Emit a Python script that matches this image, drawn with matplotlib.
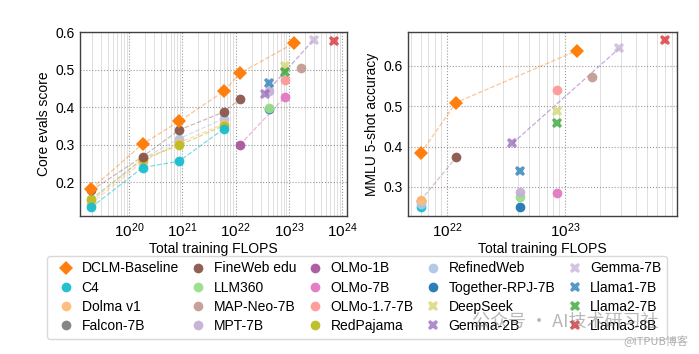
import matplotlib
matplotlib.use("Agg")
import matplotlib.pyplot as plt
from matplotlib.lines import Line2D

plt.rcParams['font.family'] = ['Liberation Sans', 'DejaVu Sans']
plt.rcParams['mathtext.default'] = 'regular'
plt.rcParams['font.size'] = 10

# compute scales shared by the dataset sweeps
sweep_flops = [1.95e19, 1.8e20, 8.7e20, 6.0e21]
dclm_flops = [1.95e19, 1.8e20, 8.7e20, 6.0e21, 1.2e22, 1.27e23]
fineweb_flops = [1.95e19, 1.8e20, 8.7e20, 6.0e21, 1.2e22]

# Core evals score
dclm_core = [0.182, 0.302, 0.362, 0.442, 0.490, 0.571]
c4_core = [0.133, 0.239, 0.256, 0.342]
dolma_core = [0.143, 0.255, 0.305, 0.355]
fineweb_core = [0.178, 0.268, 0.339, 0.387, 0.421]
redpajama_core = [0.155, 0.262, 0.298, 0.351]
refinedweb_core = [0.150, 0.262, 0.316, 0.369]

# MMLU 5-shot accuracy
mmlu_dclm_flops = [6.0e21, 1.2e22, 1.27e23]
dclm_mmlu = [0.383, 0.509, 0.638]
mmlu_sweep_flops = [6.0e21]
c4_mmlu = [0.250]
dolma_mmlu = [0.267]
refinedweb_mmlu = [0.258]
mmlu_fineweb_flops = [6.0e21, 1.2e22]
fineweb_mmlu = [0.266, 0.373]

# single released models
models = ["Together-RPJ-7B", "LLM360", "MPT-7B", "MAP-Neo-7B", "OLMo-1B", "OLMo-7B",
          "OLMo-1.7-7B", "DeepSeek", "Gemma-2B", "Gemma-7B", "Llama1-7B",
          "Llama2-7B", "Llama3-8B"]
model_flops = [4.2e22, 4.2e22, 4.2e22, 1.7e23, 1.2e22, 8.5e22,
               8.5e22, 8.5e22, 3.6e22, 2.9e23, 4.2e22, 8.5e22, 7.1e23]
model_core = [0.394, 0.398, 0.443, 0.503, 0.299, 0.428,
              0.471, 0.510, 0.436, 0.579, 0.463, 0.494, 0.577]
model_mmlu = [0.251, 0.274, 0.287, 0.572, None, 0.284,
              0.540, 0.487, 0.408, 0.644, 0.340, 0.458, 0.663]

legend_order = ["DCLM-Baseline", "C4", "Dolma v1", "Falcon-7B", "FineWeb edu",
                "LLM360", "MAP-Neo-7B", "MPT-7B", "OLMo-1B", "OLMo-7B",
                "OLMo-1.7-7B", "RedPajama", "RefinedWeb", "Together-RPJ-7B",
                "DeepSeek", "Gemma-2B", "Gemma-7B", "Llama1-7B", "Llama2-7B",
                "Llama3-8B"]

colors = {
    "DCLM-Baseline": "#ff7f0e", "C4": "#17becf", "Dolma v1": "#ffbb78",
    "Falcon-7B": "#7f7f7f", "FineWeb edu": "#8c564b", "LLM360": "#98df8a",
    "MAP-Neo-7B": "#c49c94", "MPT-7B": "#c5b0d5", "OLMo-1B": "#a8569c",
    "OLMo-7B": "#e377c2", "OLMo-1.7-7B": "#ff9896", "RedPajama": "#bcbd22",
    "RefinedWeb": "#aec7e8", "Together-RPJ-7B": "#1f77b4", "DeepSeek": "#d4d46a",
    "Gemma-2B": "#9467bd", "Gemma-7B": "#c5b0d5", "Llama1-7B": "#1f77b4",
    "Llama2-7B": "#2ca02c", "Llama3-8B": "#d62728",
}
x_models = {"DeepSeek", "Gemma-2B", "Gemma-7B", "Llama1-7B", "Llama2-7B", "Llama3-8B"}


def marker_style(name):
    if name == "DCLM-Baseline":
        return dict(marker="D", ms=7, mew=0, alpha=1.0)
    if name in x_models:
        return dict(marker="X", ms=7.5, mew=0, alpha=0.75)
    return dict(marker="o", ms=7, mew=0, alpha=0.95)


def draw_points(ax, name, xs, ys):
    ax.plot(xs, ys, ls="", color=colors[name], zorder=3, **marker_style(name))


def draw_line(ax, name, xs, ys, alpha=0.55):
    ax.plot(xs, ys, ls="--", lw=0.9, color=colors[name], alpha=alpha, zorder=2)


def style_axes(ax):
    ax.set_xscale("log")
    ax.grid(which="major", ls=":", color="0.6", lw=0.8)
    ax.grid(which="minor", ls="-", color="0.88", lw=0.7)
    ax.tick_params(which="both", length=0, pad=4, labelsize=10)
    ax.tick_params(axis="x", labelsize=11)
    for spine in ax.spines.values():
        spine.set_color("0.25")
        spine.set_linewidth(1.0)
    ax.set_xlabel("Total training FLOPS", labelpad=1)


fig = plt.figure(figsize=(6.99, 3.54), dpi=100)
ax1 = fig.add_axes([0.1144, 0.3898, 0.3820, 0.5198])
ax2 = fig.add_axes([0.5837, 0.3898, 0.3848, 0.5198])

# left: core evals
draw_line(ax1, "RefinedWeb", sweep_flops, refinedweb_core)
draw_line(ax1, "Dolma v1", sweep_flops, dolma_core)
draw_line(ax1, "RedPajama", sweep_flops, redpajama_core)
draw_line(ax1, "FineWeb edu", fineweb_flops, fineweb_core, alpha=0.4)
draw_line(ax1, "C4", sweep_flops, c4_core)
draw_line(ax1, "DCLM-Baseline", dclm_flops, dclm_core, alpha=0.45)
i1b, i7b = models.index("OLMo-1B"), models.index("OLMo-7B")
draw_line(ax1, "OLMo-7B", [model_flops[i1b], model_flops[i7b]], [model_core[i1b], model_core[i7b]])
g2, g7 = models.index("Gemma-2B"), models.index("Gemma-7B")
draw_line(ax1, "Gemma-2B", [model_flops[g2], model_flops[g7]], [model_core[g2], model_core[g7]])

draw_points(ax1, "RefinedWeb", sweep_flops, refinedweb_core)
draw_points(ax1, "Dolma v1", sweep_flops, dolma_core)
draw_points(ax1, "RedPajama", sweep_flops, redpajama_core)
draw_points(ax1, "FineWeb edu", fineweb_flops, fineweb_core)
draw_points(ax1, "C4", sweep_flops, c4_core)
for name, fl, v in zip(models, model_flops, model_core):
    draw_points(ax1, name, [fl], [v])
draw_points(ax1, "DCLM-Baseline", dclm_flops, dclm_core)

style_axes(ax1)
ax1.set_xlim(1.2e19, 1.23e24)
ax1.set_ylim(0.11, 0.6)
ax1.set_yticks([0.2, 0.3, 0.4, 0.5, 0.6])
ax1.set_ylabel("Core evals score", labelpad=3)

# right: MMLU
draw_line(ax2, "FineWeb edu", mmlu_fineweb_flops, fineweb_mmlu, alpha=0.35)
draw_line(ax2, "DCLM-Baseline", mmlu_dclm_flops, dclm_mmlu, alpha=0.45)
draw_line(ax2, "Gemma-2B", [model_flops[g2], model_flops[g7]], [model_mmlu[g2], model_mmlu[g7]])

draw_points(ax2, "FineWeb edu", mmlu_fineweb_flops, fineweb_mmlu)
draw_points(ax2, "C4", mmlu_sweep_flops, c4_mmlu)
draw_points(ax2, "RefinedWeb", mmlu_sweep_flops, refinedweb_mmlu)
draw_points(ax2, "Dolma v1", mmlu_sweep_flops, dolma_mmlu)
for name, fl, v in zip(models, model_flops, model_mmlu):
    if v is not None:
        draw_points(ax2, name, [fl], [v])
draw_points(ax2, "DCLM-Baseline", mmlu_dclm_flops, dclm_mmlu)

style_axes(ax2)
ax2.set_xlim(4.7e21, 8.9e23)
ax2.set_ylim(0.228, 0.684)
ax2.set_yticks([0.3, 0.4, 0.5, 0.6])
ax2.set_ylabel("MMLU 5-shot accuracy", labelpad=3)

handles = [Line2D([], [], ls="", color=colors[n], **marker_style(n)) for n in legend_order]
fig.legend(handles, legend_order, ncol=5, loc="upper left",
           bbox_to_anchor=(0.067, 0.277), fontsize=10, handlelength=2.0,
           handletextpad=0.1, columnspacing=0.4, labelspacing=0.38,
           borderpad=0.4, borderaxespad=0, frameon=True, edgecolor="0.85",
           framealpha=1.0)

# watermark from the source image
fig.text(0.675, 0.088, "公众号 · AI技术研习社", family=["Noto Sans CJK SC", "DejaVu Sans"],
         fontsize=13, color="0.45", alpha=0.5, va="center", zorder=10)
fig.text(0.985, 0.02, "@ITPUB博客", family=["Noto Sans CJK SC", "DejaVu Sans"],
         fontsize=8, color="0.6", alpha=0.8, ha="right", va="bottom", zorder=10)

fig.savefig("out.png", dpi=100)
